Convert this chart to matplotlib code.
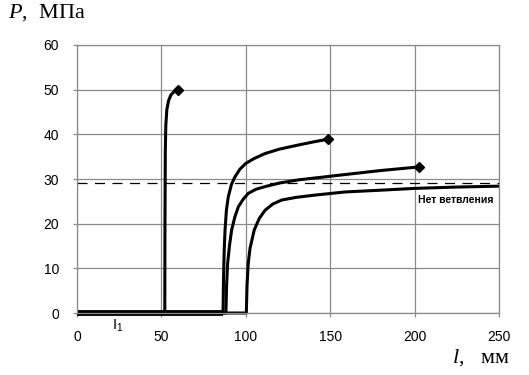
import matplotlib
matplotlib.use('Agg')
import matplotlib.pyplot as plt

plt.rcParams['mathtext.fontset'] = 'custom'
plt.rcParams['mathtext.it'] = 'Liberation Serif:italic'
plt.rcParams['mathtext.rm'] = 'Liberation Serif'

# curve data (l in mm, P in MPa)
l1 = [0, 52, 52.1, 52.3, 52.6, 53.2, 54.2, 55.6, 57.6, 60]
p1 = [0, 0, 20, 36, 42, 45.5, 47.5, 48.8, 49.6, 50]

l2 = [0, 86.5, 86.8, 87.2, 87.7, 88.5, 89.6, 91.5, 93.6, 96.5, 100, 105,
      111.4, 120, 131, 140, 148.5]
p2 = [0, 0, 8, 14, 18.6, 23, 26, 28.8, 30.5, 32.2, 33.5, 34.6,
      35.7, 36.7, 37.6, 38.3, 38.9]

l3 = [0, 88.2, 88.6, 89.2, 90.3, 91.6, 93.5, 95.6, 98.5, 101.5, 106,
      111.4, 120, 131, 145, 158.8, 180, 202.4]
p3 = [0, 0, 6, 11, 15, 18.6, 21.5, 23.8, 25.5, 26.8, 27.7,
      28.3, 29.1, 29.8, 30.4, 31.0, 31.9, 32.7]

l4 = [0, 100.3, 100.7, 101.4, 102.5, 105, 108, 111.4, 116, 121.3, 130,
      141, 158.8, 180, 200, 225, 250]
p4 = [0, 0, 6, 11, 14.5, 18.6, 21.2, 23, 24.4, 25.3, 25.9,
      26.4, 27.1, 27.5, 27.9, 28.2, 28.4]

p_limit = 29.2          # dashed level
limit_label = 'Нет ветвления'
x_ticks = [0, 50, 100, 150, 200, 250]
y_ticks = [0, 10, 20, 30, 40, 50, 60]

fig = plt.figure(figsize=(5.29, 3.75), dpi=100)
ax = fig.add_axes([0.1456, 0.1653, 0.7977, 0.7147])

ax.set_xlim(x_ticks[0], x_ticks[-1])
ax.set_ylim(y_ticks[0], y_ticks[-1])
ax.set_xticks(x_ticks)
ax.set_yticks(y_ticks)
ax.grid(True, color='#8a8a8a', lw=0.9)
ax.set_axisbelow(True)
for s in ax.spines.values():
    s.set_color('#8a8a8a')
    s.set_linewidth(0.9)
ax.tick_params(length=3, width=0.9, color='#8a8a8a', labelsize=10)
ax.tick_params(axis='x', pad=9)
ax.tick_params(axis='y', pad=10)
for lab in ax.get_xticklabels() + ax.get_yticklabels():
    lab.set_family('Liberation Sans')

# dashed limit line
ax.axhline(p_limit, color='black', lw=0.9, dashes=(8, 6))

# curves
for l, p in [(l4, p4), (l3, p3), (l2, p2), (l1, p1)]:
    ax.plot(l, p, color='black', lw=2.2, solid_capstyle='butt', clip_on=False)
# heavy zero segment where several curves overlap
ax.plot(l2[:2], p2[:2], color='black', lw=4.2, solid_capstyle='butt', clip_on=False)

# end markers
for l, p in [(l1, p1), (l2, p2), (l3, p3)]:
    ax.plot(l[-1], p[-1], marker='D', ms=5.5, color='black', clip_on=False)

ax.text(246.5, 25.4, limit_label, ha='right', va='center', fontsize=7.5,
        fontweight='bold', family='Liberation Sans')
ax.text(24, -3.0, 'I$_{\\mathregular{1}}$', ha='center', va='center', fontsize=10.5,
        family='Liberation Sans', clip_on=False)

fig.text(0.015, 0.995, '$P$,  МПа', ha='left', va='top', fontsize=16,
         family='Liberation Serif')
fig.text(0.965, 0.02, '$l$,   мм', ha='right', va='bottom', fontsize=16,
         family='Liberation Serif')

fig.savefig('out.png', dpi=100)
